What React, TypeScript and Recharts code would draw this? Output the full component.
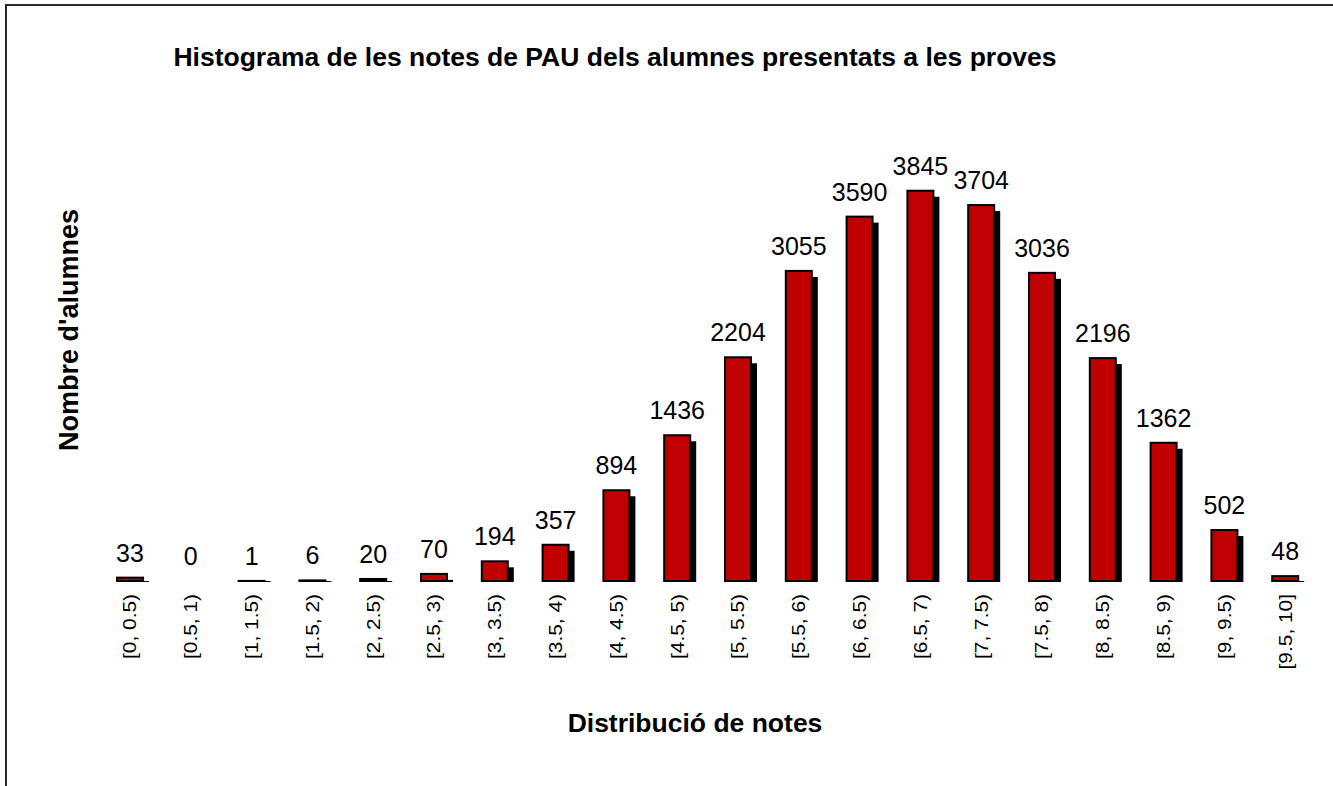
import React from "react";
import { Bar, BarChart, LabelList, XAxis, YAxis } from "recharts";

const categories = [
  "[0, 0.5)", "[0.5, 1)", "[1, 1.5)", "[1.5, 2)", "[2, 2.5)",
  "[2.5, 3)", "[3, 3.5)", "[3.5, 4)", "[4, 4.5)", "[4.5, 5)",
  "[5, 5.5)", "[5.5, 6)", "[6, 6.5)", "[6.5, 7)", "[7, 7.5)",
  "[7.5, 8)", "[8, 8.5)", "[8.5, 9)", "[9, 9.5)", "[9.5, 10]",
];
const students = [
  33, 0, 1, 6, 20, 70, 194, 357, 894, 1436,
  2204, 3055, 3590, 3845, 3704, 3036, 2196, 1362, 502, 48,
];

const chartTitle = "Histograma de les notes de PAU dels alumnes presentats a les proves";
const yTitle = "Nombre d'alumnes";
const xTitle = "Distribució de notes";

const FONT = "'Liberation Sans', Arial, sans-serif";
const RED = "#c00000";

const data = categories.map((c, i) => ({ range: c, count: students[i] }));

// red bar with black outline and a dropped shadow to the lower right
const ShadowBar = (props: any) => {
  const { x, y, width, height, value } = props;
  if (!value) return null;
  const base = y + height;
  const sy = Math.min(y + 6, base);
  return (
    <g>
      <rect x={x + 6} y={sy} width={width} height={Math.max(base - sy + 1, 1)} fill="#000" />
      <rect x={x} y={y} width={width} height={height} fill={RED} stroke="#000" strokeWidth={2} />
    </g>
  );
};

const ValueLabel = (props: any) => {
  const { x, y, width, value } = props;
  return (
    <text x={x + width / 2} y={y - 16} textAnchor="middle" fontFamily={FONT} fontSize={25} fill="#000">
      {value}
    </text>
  );
};

const RotatedTick = (props: any) => {
  const { x, y, payload } = props;
  return (
    <text
      transform={`translate(${x + 6},${y + 5}) rotate(-90) scale(1.16,1)`}
      textAnchor="end"
      fontFamily={FONT}
      fontSize={18}
      fill="#000"
    >
      {payload.value}
    </text>
  );
};

const App = () => {
  return (
    <div style={{ position: "absolute", left: 0, top: 0, width: 1333, height: 786, overflow: "hidden", background: "#fff" }}>
      {/* frame of the original chart area */}
      <div style={{ position: "absolute", left: 5, top: 4, width: 1400, height: 900, borderLeft: "2px solid #2a2a2a", borderTop: "2px solid #2a2a2a" }} />
      <div style={{ position: "absolute", left: 0, top: 0 }}>
        <BarChart width={1333} height={786} data={data} margin={{ top: 175, right: 17, bottom: 75, left: 100 }}>
          <XAxis dataKey="range" interval={0} axisLine={false} tickLine={false} height={130} tick={<RotatedTick />} />
          <YAxis hide domain={[0, 4000]} />
          <Bar dataKey="count" barSize={26} shape={<ShadowBar />} isAnimationActive={false}>
            <LabelList dataKey="count" content={<ValueLabel />} />
          </Bar>
        </BarChart>
      </div>
      <svg width={1333} height={786} style={{ position: "absolute", left: 0, top: 0, pointerEvents: "none" }}>
        <text x={615} y={66} textAnchor="middle" fontFamily={FONT} fontWeight="bold" fontSize={26.5} fill="#000">
          {chartTitle}
        </text>
        <text transform="translate(78,330) rotate(-90)" textAnchor="middle" fontFamily={FONT} fontWeight="bold" fontSize={27} fill="#000">
          {yTitle}
        </text>
        <text x={695} y={732} textAnchor="middle" fontFamily={FONT} fontWeight="bold" fontSize={26.5} fill="#000">
          {xTitle}
        </text>
      </svg>
    </div>
  );
};

export default App;
